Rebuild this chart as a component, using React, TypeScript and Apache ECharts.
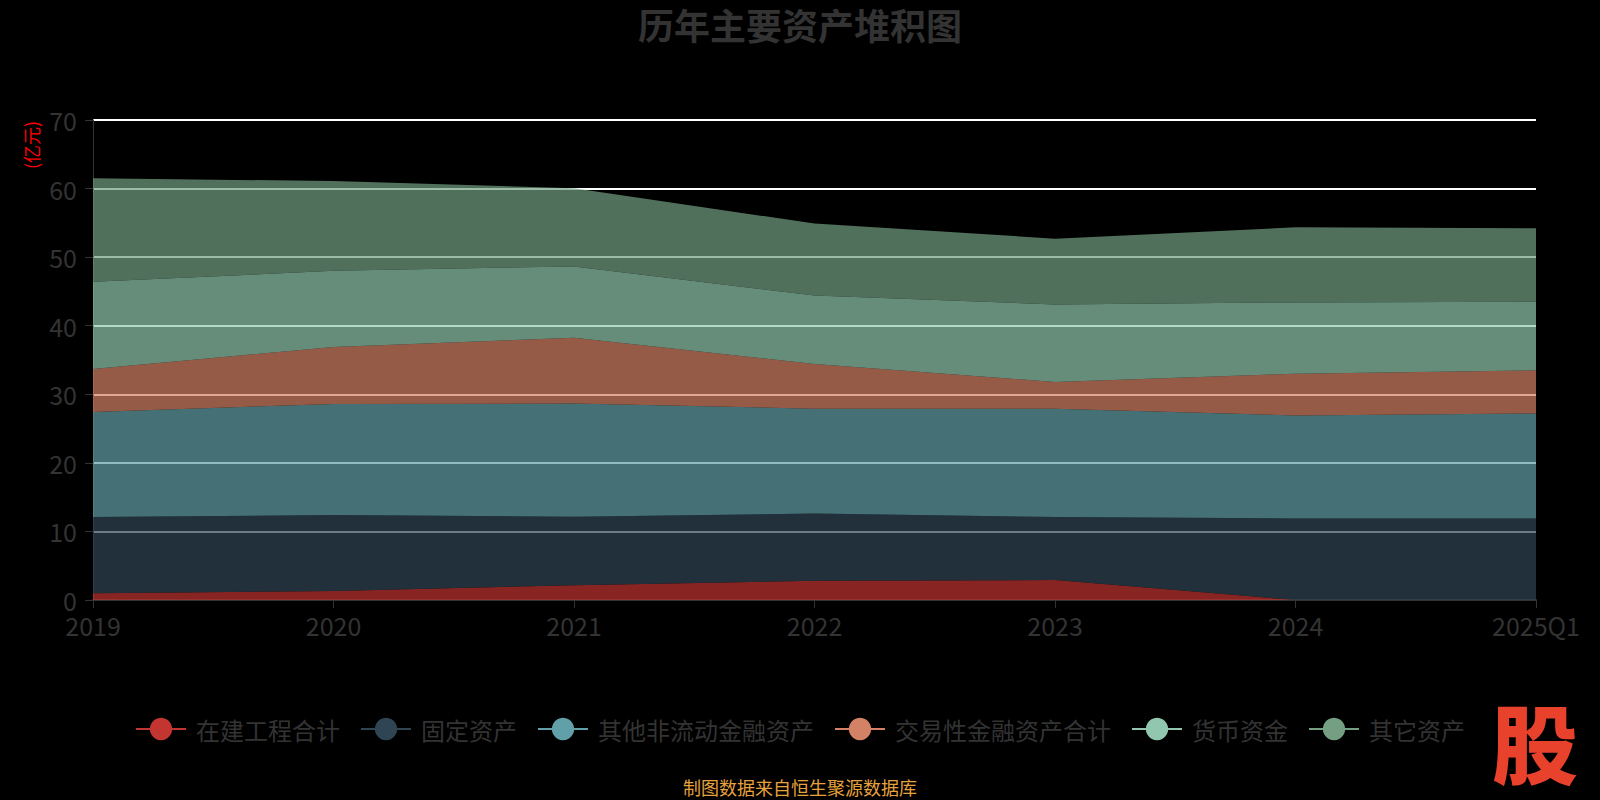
import React, { useEffect, useRef } from "react";
import * as echarts from "echarts";

const categories = ["2019", "2020", "2021", "2022", "2023", "2024", "2025Q1"];
const seriesNames = ["在建工程合计", "固定资产", "其他非流动金融资产", "交易性金融资产合计", "货币资金", "其它资产"];
const zjgc = [1.0, 1.3, 2.15, 2.8, 2.9, 0, 0];
const gdzc = [11.1, 11.1, 10.0, 9.8, 9.2, 11.9, 11.9];
const qtfldjr = [15.3, 16.2, 16.5, 15.3, 15.8, 15.0, 15.3];
const jyxjr = [6.3, 8.3, 9.6, 6.5, 3.9, 6.1, 6.3];
const hbzj = [12.7, 11.1, 10.4, 10.0, 11.3, 10.4, 10.0];
const qtzc = [15.1, 13.1, 11.4, 10.5, 9.6, 10.95, 10.7];
const seriesData = [zjgc, gdzc, qtfldjr, jyxjr, hbzj, qtzc];
const colors = ["#c23531", "#2f4554", "#61a0a8", "#d48265", "#91c7ae", "#749f83"];
const yTicks = [0, 10, 20, 30, 40, 50, 60, 70];

const FONT = "Noto Sans CJK SC";

export default function App() {
  const ref = useRef<HTMLDivElement>(null);
  useEffect(() => {
    document.body.style.margin = "0";
    document.body.style.background = "#000";
    const chart = echarts.init(ref.current!, null, { renderer: "svg" });
    chart.setOption({
      animation: false,
      backgroundColor: "#000",
      color: colors,
      textStyle: { fontFamily: FONT },
      title: {
        text: "历年主要资产堆积图",
        left: "center",
        top: 1,
        textStyle: { color: "#333", fontSize: 36, fontWeight: "bold", fontFamily: FONT },
      },
      legend: {
        left: 130,
        top: 712,
        itemWidth: 50,
        itemHeight: 28,
        itemGap: 20,
        textStyle: { color: "#333", fontSize: 24, fontFamily: FONT, padding: [0, 0, 0, 5] },
        lineStyle: { width: 2, opacity: 1 },
        data: seriesNames,
      },
      grid: { left: 93, right: 64, top: 120, bottom: 200 },
      xAxis: {
        type: "category",
        data: categories,
        boundaryGap: false,
        axisLine: { lineStyle: { color: "#333", width: 2 } },
        axisTick: { show: true, length: 8, lineStyle: { color: "#333" } },
        axisLabel: { color: "#333", fontSize: 25, margin: 12, fontFamily: FONT },
      },
      yAxis: {
        type: "value",
        min: yTicks[0],
        max: yTicks[yTicks.length - 1],
        interval: 10,
        axisLine: { show: true, lineStyle: { color: "#333" } },
        axisTick: { show: true, length: 8, lineStyle: { color: "#333" } },
        axisLabel: { color: "#333", fontSize: 25, margin: 16, fontFamily: FONT },
        splitLine: { lineStyle: { color: "#fff", width: 2 } },
      },
      graphic: [
        {
          type: "text",
          x: 31,
          y: 145,
          rotation: Math.PI / 2,
          style: {
            text: "(亿元)",
            fill: "#ff0000",
            fontSize: 18,
            fontFamily: FONT,
            align: "center",
            verticalAlign: "middle",
          },
        },
        {
          type: "text",
          x: 800,
          y: 787,
          style: {
            text: "制图数据来自恒生聚源数据库",
            fill: "#e6a23c",
            fontSize: 18,
            fontFamily: FONT,
            align: "center",
            verticalAlign: "middle",
          },
        },
        {
          type: "text",
          x: 1535,
          y: 740,
          style: {
            text: "股",
            fill: "#e8412c",
            fontSize: 86,
            fontWeight: 900,
            fontFamily: FONT,
            align: "center",
            verticalAlign: "middle",
          },
        },
      ],
      series: seriesNames.map((name, i) => ({
        name,
        type: "line",
        stack: "total",
        data: seriesData[i],
        showSymbol: false,
        symbol: "circle",
        lineStyle: { width: 0, opacity: 0 },
        areaStyle: { opacity: 0.7 },
        itemStyle: { color: colors[i] },
      })),
    });
    return () => chart.dispose();
  }, []);
  return <div ref={ref} style={{ position: "absolute", left: 0, top: 0, width: 1600, height: 800 }} />;
}
